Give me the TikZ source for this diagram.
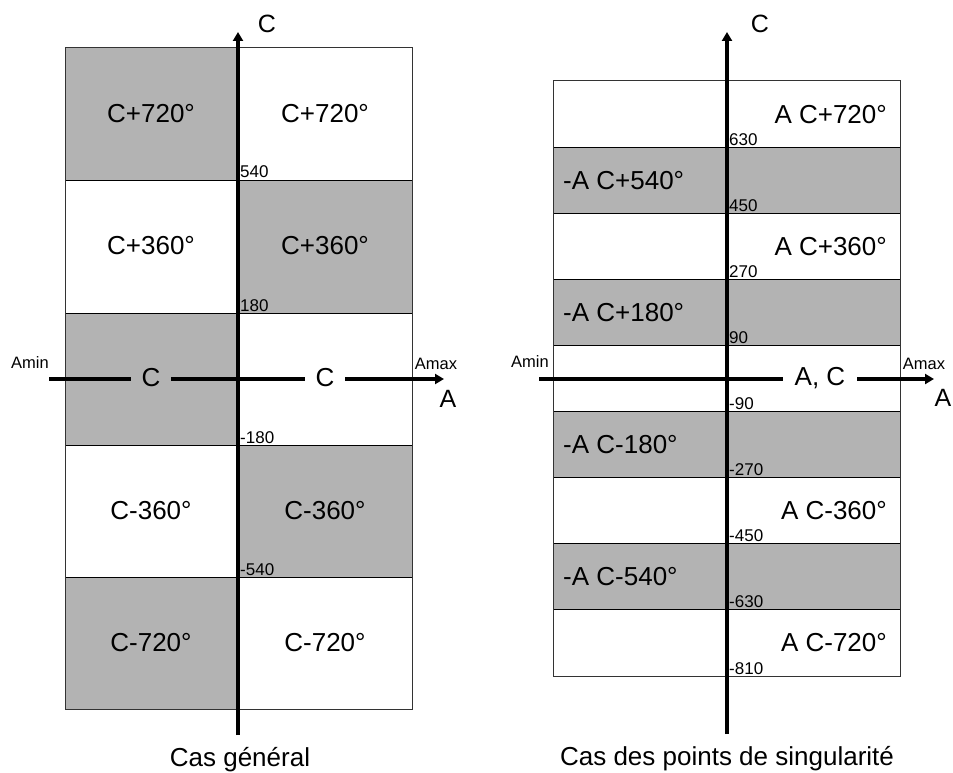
\documentclass[tikz,border=0pt]{standalone}
\usepackage{fontspec}
\setmainfont{Liberation Sans}
\usetikzlibrary{arrows.meta}
\definecolor{cellgray}{HTML}{B3B3B3}
\definecolor{edgegray}{HTML}{333333}
\tikzset{
  big/.style={font=\fontsize{26}{30}\selectfont, inner sep=0pt},
  axlabel/.style={font=\fontsize{25}{29}\selectfont, inner sep=0pt},
  small/.style={font=\fontsize{16.5}{19}\selectfont, inner sep=0pt},
  tick/.style={font=\fontsize{17}{19}\selectfont, inner sep=0pt, anchor=base west},
  axisline/.style={line width=3.3pt, -{Triangle[length=9pt,width=10pt]}},
  gridline/.style={line width=1pt, draw=black},
  outline/.style={line width=1pt, draw=edgegray},
  gap/.style={big, inner xsep=11pt, inner ysep=2pt, anchor=base},
}
\begin{document}
\begin{tikzpicture}[x=1pt,y=-1pt]
\useasboundingbox (0,0) rectangle (953,773);
\fill[white] (0,0) rectangle (953,773);

% ---------------- left: Cas general ----------------
\fill[cellgray] (65,48) rectangle (238,180);
\fill[cellgray] (238,180) rectangle (412,313);
\fill[cellgray] (65,313) rectangle (238,445);
\fill[cellgray] (238,445) rectangle (412,577);
\fill[cellgray] (65,577) rectangle (238,709);
\foreach \yy in {180,313,445,577} \draw[gridline] (65,\yy) -- (412,\yy);
\draw[outline] (65,48) rectangle (412,709);

\coordinate (lvb) at (238,735);
\coordinate (lvt) at (238,32);
\coordinate (lhl) at (49,379);
\coordinate (lhr) at (444,379);
\draw[axisline] (lhl) -- (lhr);
\draw[axisline] (lvb) -- (lvt);

\node[gap, fill=cellgray] (lcl) at (151,386) {C};
\node[gap, fill=white] (lcr) at (325,386) {C};

\node[big] (l1) at (151,114) {C+720°};
\node[big] (l2) at (325,114) {C+720°};
\node[big] (l3) at (151,246) {C+360°};
\node[big] (l4) at (325,246) {C+360°};
\node[big] (l5) at (151,511) {C-360°};
\node[big] (l6) at (325,511) {C-360°};
\node[big] (l7) at (151,643) {C-720°};
\node[big] (l8) at (325,643) {C-720°};

\node[tick] (lt1) at (240,178) {540};
\node[tick] (lt2) at (240,311) {180};
\node[tick] (lt3) at (240,443) {-180};
\node[tick] (lt4) at (240,575) {-540};

\node[small] (lamin) at (30,363) {Amin};
\node[small] (lamax) at (436,364) {Amax};
\node[axlabel] (la) at (448,399) {A};
\node[axlabel] (lc) at (267,24) {C};
\node[big, anchor=base] (lcap) at (240,766) {Cas général};

% ---------------- right: singularites ----------------
\foreach \k in {1,3,5,7}
  \fill[cellgray] (553,{81+66.11*\k}) rectangle (900,{81+66.11*(\k+1)});
\foreach \k in {1,...,8}
  \draw[gridline] (553,{81+66.11*\k}) -- (900,{81+66.11*\k});
\draw[outline] (553,81) rectangle (900,676);

\coordinate (rvb) at (727,734);
\coordinate (rvt) at (727,32);
\coordinate (rhl) at (539,379);
\coordinate (rhr) at (934,379);
\draw[axisline] (rhl) -- (rhr);
\draw[axisline] (rvb) -- (rvt);

\node[gap, fill=white, inner xsep=12pt] (rac) at (820,385) {A, C};

\node[big, anchor=east] (r0) at (887,114.1) {A C+720°};
\node[big, anchor=west] (r1) at (563,180.2) {-A C+540°};
\node[big, anchor=east] (r2) at (887,246.3) {A C+360°};
\node[big, anchor=west] (r3) at (563,312.4) {-A C+180°};
\node[big, anchor=west] (r5) at (563,444.6) {-A C-180°};
\node[big, anchor=east] (r6) at (887,510.7) {A C-360°};
\node[big, anchor=west] (r7) at (563,576.8) {-A C-540°};
\node[big, anchor=east] (r8) at (887,642.9) {A C-720°};

\node[tick] (rt1) at (729,145.1) {630};
\node[tick] (rt2) at (729,211.2) {450};
\node[tick] (rt3) at (729,277.3) {270};
\node[tick] (rt4) at (729,343.4) {90};
\node[tick] (rt5) at (729,409.6) {-90};
\node[tick] (rt6) at (729,475.7) {-270};
\node[tick] (rt7) at (729,541.8) {-450};
\node[tick] (rt8) at (729,607.9) {-630};
\node[tick] (rt9) at (729,674) {-810};

\node[small] (ramin) at (530,362) {Amin};
\node[small] (ramax) at (924,364) {Amax};
\node[axlabel] (ra) at (943,398) {A};
\node[axlabel] (rc) at (760,24) {C};
\node[big, anchor=base] (rcap) at (727,765) {Cas des points de singularité};
\end{tikzpicture}
\end{document}
